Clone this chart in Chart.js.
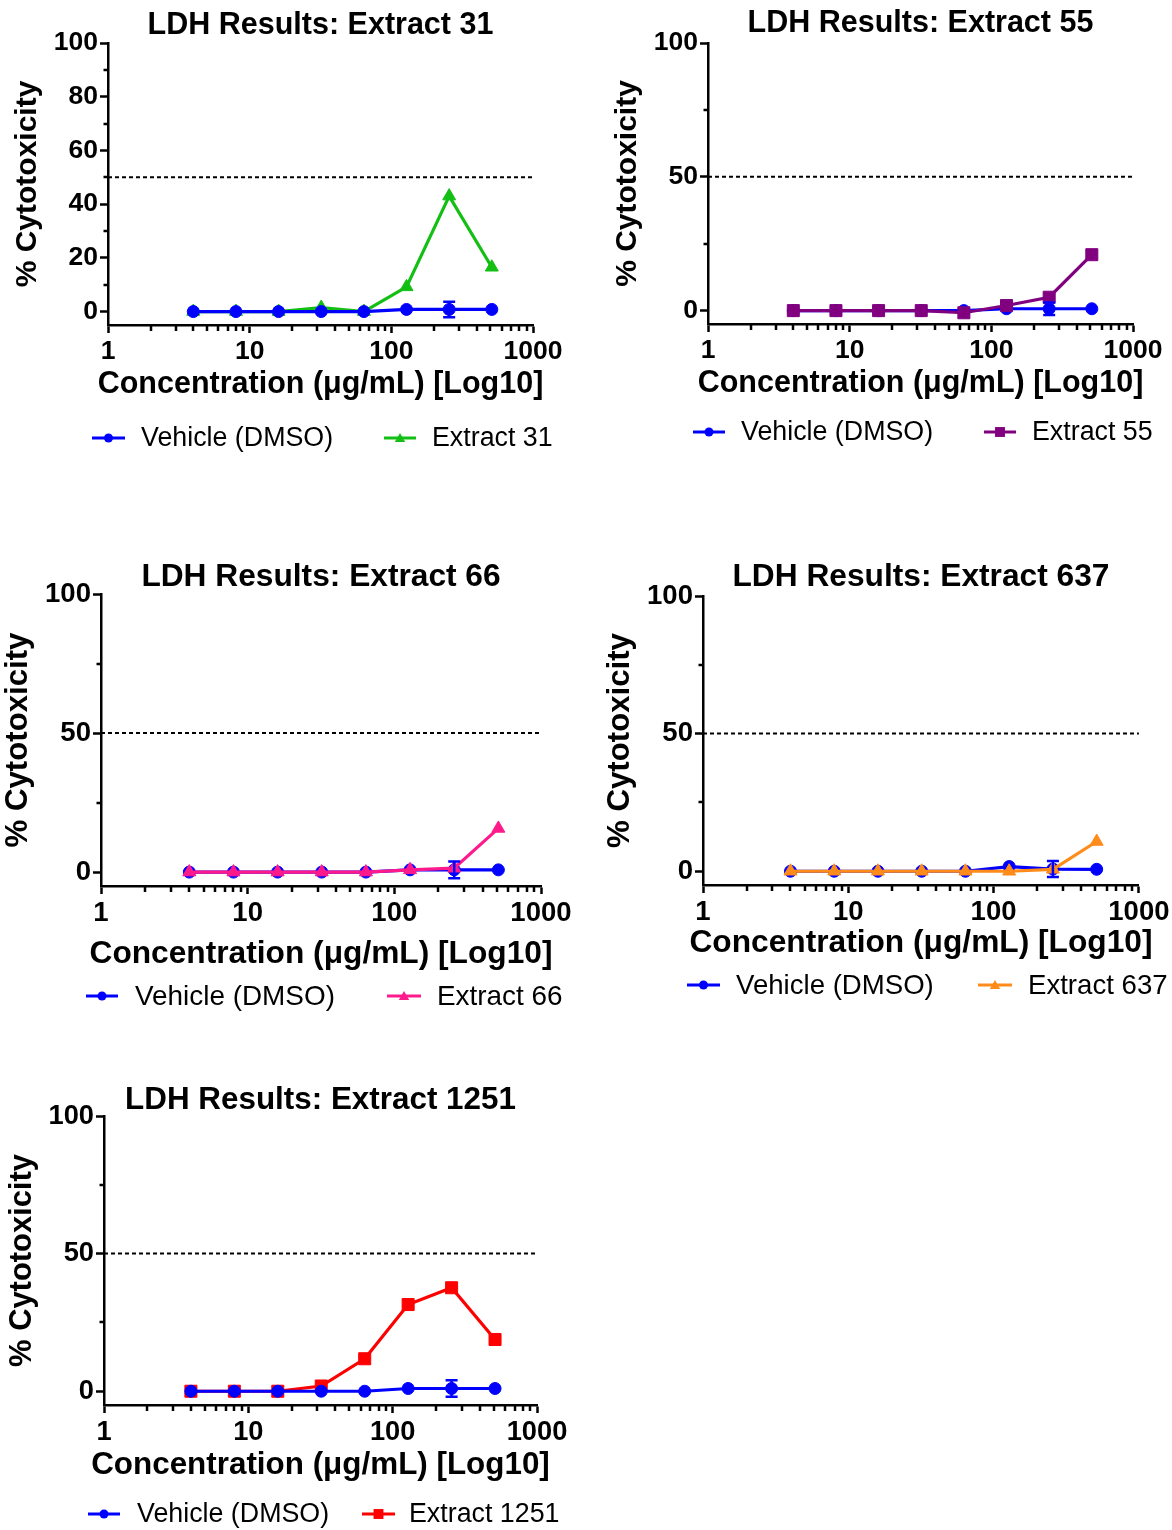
<!DOCTYPE html>
<html>
<head>
<meta charset="utf-8">
<script src="https://cdn.jsdelivr.net/npm/chart.js@4.4.0/dist/chart.umd.min.js"></script>
<style>
  html, body { margin: 0; padding: 0; background: #fff; }
  #page { position: relative; width: 1172px; height: 1530px; overflow: hidden; }
  canvas { position: absolute; }
</style>
</head>
<body>
<div id="page"></div>
<script>
// concentrations (µg/mL), two-fold dilutions
const concentrations = [4, 8, 16, 32, 64, 128, 256, 512];

const vehicle31 = [0, 0, 0, 0, 0, 0.8, 0.8, 0.8];
const vehicle31Err = [0, 0, 0, 0, 0, 0, 2.9, 0];
const extract31 = [0, 0, 0, 1.5, 0, 9.2, 43, 16.5];

const vehicle55 = [0, 0, 0, 0, 0, 0.7, 0.7, 0.7];
const vehicle55Err = [0, 0, 0, 0, 0, 0, 2.3, 0];
const extract55 = [0, 0, 0, 0, -0.8, 1.9, 5, 20.9];

const vehicle66 = [0, 0, 0, 0, 0, 0.8, 0.8, 0.8];
const vehicle66Err = [0, 0, 0, 0, 0, 0, 3, 0];
const extract66 = [0, 0, 0, 0, 0, 0.8, 1.4, 15.7];

const vehicle637 = [0, 0, 0, 0, 0, 1.7, 0.8, 0.7];
const vehicle637Err = [0, 0, 0, 0, 0, 0, 2.9, 0];
const extract637 = [0, 0, 0, 0, 0, 0, 0.7, 10.8];

const vehicle1251 = [0, 0, 0, 0, 0, 1, 1, 1];
const vehicle1251Err = [0, 0, 0, 0, 0, 0, 3, 0];
const extract1251 = [0, 0, 0, 1.9, 11.8, 31.5, 37.6, 18.8];

const xTicks = [1, 10, 100, 1000];
const xMinorTicks = [2, 3, 4, 5, 6, 7, 8, 9, 20, 30, 40, 50, 60, 70, 80, 90, 200, 300, 400, 500, 600, 700, 800, 900];
const yTicksFine = [0, 20, 40, 60, 80, 100];
const yMinorFine = [10, 30, 50, 70, 90];
const yTicksCoarse = [0, 50, 100];
const yMinorCoarse = [25, 75];
const threshold = 50;

const vehicleLabel = 'Vehicle (DMSO)';
const yTitle = '% Cytotoxicity';
const xTitle = 'Concentration (\u03bcg/mL) [Log10]';

const FONT = "'Liberation Sans', Arial, sans-serif";

// page layout of each panel (pixels)
const panels = [
  { title: 'LDH Results: Extract 31', name: 'Extract 31', veh: vehicle31, err: vehicle31Err, ext: extract31,
    color: '#14bf14', style: 'triangle', radius: 7.5, yT: yTicksFine, yM: yMinorFine, vehTop: true,
    x0: 0, y0: 0, w: 586, h: 470, L: 108, T: 43, R: 533, B: 325, yTitleX: 28, titleDy: -17, xTitleDy: 60,
    legDy: 113, leg: [[-16, 17, 33], [276, 308, 324]], fs: 1, legFs: 1 },
  { title: 'LDH Results: Extract 55', name: 'Extract 55', veh: vehicle55, err: vehicle55Err, ext: extract55,
    color: '#800080', style: 'rect', radius: 8.5, yT: yTicksCoarse, yM: yMinorCoarse, vehTop: false,
    x0: 586, y0: 0, w: 586, h: 470, L: 708, T: 43, R: 1133, B: 324, yTitleX: 628, titleDy: -19, xTitleDy: 60,
    legDy: 108, leg: [[-15, 17, 33], [276, 308, 324]], fs: 1, legFs: 1 },
  { title: 'LDH Results: Extract 66', name: 'Extract 66', veh: vehicle66, err: vehicle66Err, ext: extract66,
    color: '#ff1a8c', style: 'triangle', radius: 7.5, yT: yTicksCoarse, yM: yMinorCoarse, vehTop: false,
    x0: 0, y0: 540, w: 586, h: 490, L: 101, T: 594, R: 541, B: 886, yTitleX: 18, titleDy: -17, xTitleDy: 68,
    legDy: 110, leg: [[-15, 17, 34], [286, 320, 336]], fs: 1.04, legFs: 1.04 },
  { title: 'LDH Results: Extract 637', name: 'Extract 637', veh: vehicle637, err: vehicle637Err, ext: extract637,
    color: '#ff8c1a', style: 'triangle', radius: 7.5, yT: yTicksCoarse, yM: yMinorCoarse, vehTop: false,
    x0: 586, y0: 540, w: 586, h: 490, L: 703, T: 596, R: 1139, B: 885, yTitleX: 620, titleDy: -19, xTitleDy: 58,
    legDy: 100, leg: [[-16, 17, 33], [275, 309, 325]], fs: 1.04, legFs: 1.03 },
  { title: 'LDH Results: Extract 1251', name: 'Extract 1251', veh: vehicle1251, err: vehicle1251Err, ext: extract1251,
    color: '#ff0000', style: 'rect', radius: 8.5, yT: yTicksCoarse, yM: yMinorCoarse, vehTop: true,
    x0: 0, y0: 1040, w: 586, h: 490, L: 104, T: 1116, R: 537, B: 1405, yTitleX: 22, titleDy: -16, xTitleDy: 60,
    legDy: 109, leg: [[-16, 16, 33], [258, 291, 305]], fs: 1.03, legFs: 1.0 }
];

function marker(ctx, style, x, y, r, color) {
  ctx.fillStyle = color;
  ctx.beginPath();
  if (style === 'circle') {
    ctx.arc(x, y, r, 0, Math.PI * 2);
  } else if (style === 'rect') {
    const s = r * Math.SQRT1_2;
    ctx.rect(x - s, y - s, s * 2, s * 2);
  } else {
    ctx.moveTo(x, y - r);
    ctx.lineTo(x + r * 0.866, y + r * 0.5);
    ctx.lineTo(x - r * 0.866, y + r * 0.5);
    ctx.closePath();
  }
  ctx.fill();
}

const decor = {
  id: 'decor',
  beforeDatasetsDraw(chart, args, o) {
    const { ctx, chartArea: a, scales: { y } } = chart;
    const py = y.getPixelForValue(threshold);
    ctx.save();
    ctx.setLineDash([4, 3]);
    ctx.lineWidth = 2;
    ctx.strokeStyle = '#000';
    ctx.beginPath();
    ctx.moveTo(a.left, py);
    ctx.lineTo(a.right, py);
    ctx.stroke();
    ctx.restore();
  },
  afterDatasetsDraw(chart, args, o) {
    const { ctx, scales: { x, y } } = chart;
    ctx.save();
    ctx.strokeStyle = '#0000ff';
    ctx.lineWidth = 2.5;
    o.err.forEach((e, i) => {
      if (!e) return;
      const px = x.getPixelForValue(concentrations[i]);
      const top = y.getPixelForValue(o.veh[i] + e);
      const bot = y.getPixelForValue(o.veh[i] - e);
      ctx.beginPath();
      ctx.moveTo(px, top); ctx.lineTo(px, bot);
      ctx.moveTo(px - 6, top); ctx.lineTo(px + 6, top);
      ctx.moveTo(px - 6, bot); ctx.lineTo(px + 6, bot);
      ctx.stroke();
    });
    ctx.restore();
  },
  afterDraw(chart, args, o) {
    const { ctx, chartArea: a, scales: { x, y } } = chart;
    ctx.save();
    ctx.strokeStyle = '#000';
    ctx.lineWidth = 2.5;
    ctx.beginPath();
    xMinorTicks.forEach(v => {
      const px = Math.round(x.getPixelForValue(v));
      ctx.moveTo(px, a.bottom); ctx.lineTo(px, a.bottom + 6);
    });
    o.yM.forEach(v => {
      const py = Math.round(y.getPixelForValue(v));
      ctx.moveTo(a.left - 4.5, py); ctx.lineTo(a.left, py);
    });
    ctx.stroke();

    const cx = (a.left + a.right) / 2;
    ctx.fillStyle = '#000';
    ctx.textAlign = 'center';
    ctx.textBaseline = 'middle';

    // chart title
    ctx.font = `bold ${(30.5 * o.fs).toFixed(1)}px ${FONT}`;
    ctx.fillText(o.title, cx, a.top + o.titleDy);

    // x-axis title (wider than the axis, so drawn here)
    ctx.font = `bold ${(30.5 * o.fs).toFixed(1)}px ${FONT}`;
    ctx.fillText(xTitle, cx, a.bottom + o.xTitleDy);

    // legend
    const ly = a.bottom + o.legDy;
    const items = [
      { label: vehicleLabel, color: '#0000ff', style: 'circle', r: 4.5 },
      { label: o.name, color: o.color, style: o.style, r: o.style === 'rect' ? 7 : 6 }
    ];
    ctx.font = `${(26.8 * o.legFs).toFixed(1)}px ${FONT}`;
    ctx.textAlign = 'left';
    items.forEach((it, k) => {
      const [l0, l1, tx] = o.leg[k];
      ctx.strokeStyle = it.color;
      ctx.lineWidth = 3;
      ctx.beginPath();
      ctx.moveTo(a.left + l0, ly); ctx.lineTo(a.left + l1, ly);
      ctx.stroke();
      marker(ctx, it.style, a.left + (l0 + l1) / 2, ly + (it.style === 'triangle' ? 1 : 0), it.r, it.color);
      ctx.fillStyle = '#000';
      ctx.fillText(it.label, a.left + tx, ly + 1);
    });
    ctx.restore();
  }
};

const page = document.getElementById('page');

panels.forEach(p => {
  const canvas = document.createElement('canvas');
  canvas.width = p.w;
  canvas.height = p.h;
  canvas.style.left = p.x0 + 'px';
  canvas.style.top = p.y0 + 'px';
  canvas.style.width = p.w + 'px';
  canvas.style.height = p.h + 'px';
  page.appendChild(canvas);

  const tickSize = 26.5 * p.fs;
  const yTitleSize = 30 * p.fs;
  const Wy = p.L - p.x0;
  const Hx = p.y0 + p.h - p.B;
  const xTickPad = 27 - 8 - tickSize * 1.2 / 2;
  const yTitlePadTop = p.yTitleX - p.x0 - yTitleSize * 1.2 / 2;

  const pts = vals => concentrations.map((c, i) => ({ x: c, y: vals[i] }));

  new Chart(canvas, {
    type: 'line',
    data: {
      datasets: [
        {
          label: vehicleLabel,
          data: pts(p.veh),
          borderColor: '#0000ff',
          backgroundColor: '#0000ff',
          borderWidth: 3.2,
          pointStyle: 'circle',
          pointRadius: 6,
          pointBackgroundColor: '#0000ff',
          pointBorderColor: '#0000ff',
          pointBorderWidth: 1,
          order: p.vehTop ? 0 : 1
        },
        {
          label: p.name,
          data: pts(p.ext),
          borderColor: p.color,
          backgroundColor: p.color,
          borderWidth: 3.2,
          pointStyle: p.style,
          pointRadius: p.radius,
          pointBackgroundColor: p.color,
          pointBorderColor: p.color,
          pointBorderWidth: 1,
          order: p.vehTop ? 1 : 0
        }
      ]
    },
    options: {
      responsive: false,
      animation: false,
      devicePixelRatio: 1,
      layout: {
        padding: { left: 0, top: p.T - p.y0, right: p.x0 + p.w - p.R, bottom: 0 }
      },
      plugins: {
        legend: { display: false },
        title: { display: false },
        tooltip: { enabled: false },
        decor: { ...p }
      },
      scales: {
        x: {
          type: 'logarithmic',
          min: 1,
          max: 1000,
          afterBuildTicks: s => { s.ticks = xTicks.map(v => ({ value: v })); },
          afterFit: s => { s.height = Hx; },
          ticks: {
            color: '#000',
            font: { family: FONT, size: tickSize, weight: 'bold' },
            padding: xTickPad,
            maxRotation: 0,
            autoSkip: false,
            callback: v => String(v)
          },
          grid: { drawOnChartArea: false, drawTicks: true, tickLength: 8, tickWidth: 2.5, tickColor: '#000' },
          border: { display: true, color: '#000', width: 2.5 },
          title: { display: false }
        },
        y: {
          type: 'linear',
          min: -5,
          max: 100,
          afterBuildTicks: s => { s.ticks = p.yT.map(v => ({ value: v })); },
          afterFit: s => { s.width = Wy; },
          ticks: {
            color: '#000',
            font: { family: FONT, size: tickSize, weight: 'bold' },
            padding: 2,
            autoSkip: false,
            callback: v => String(v)
          },
          grid: { drawOnChartArea: false, drawTicks: true, tickLength: 8, tickWidth: 2.5, tickColor: '#000' },
          border: { display: true, color: '#000', width: 2.5 },
          title: {
            display: true,
            text: yTitle,
            color: '#000',
            font: { family: FONT, size: yTitleSize, weight: 'bold' },
            padding: { top: yTitlePadTop, bottom: 0 }
          }
        }
      }
    },
    plugins: [decor]
  });
});
</script>
</body>
</html>
